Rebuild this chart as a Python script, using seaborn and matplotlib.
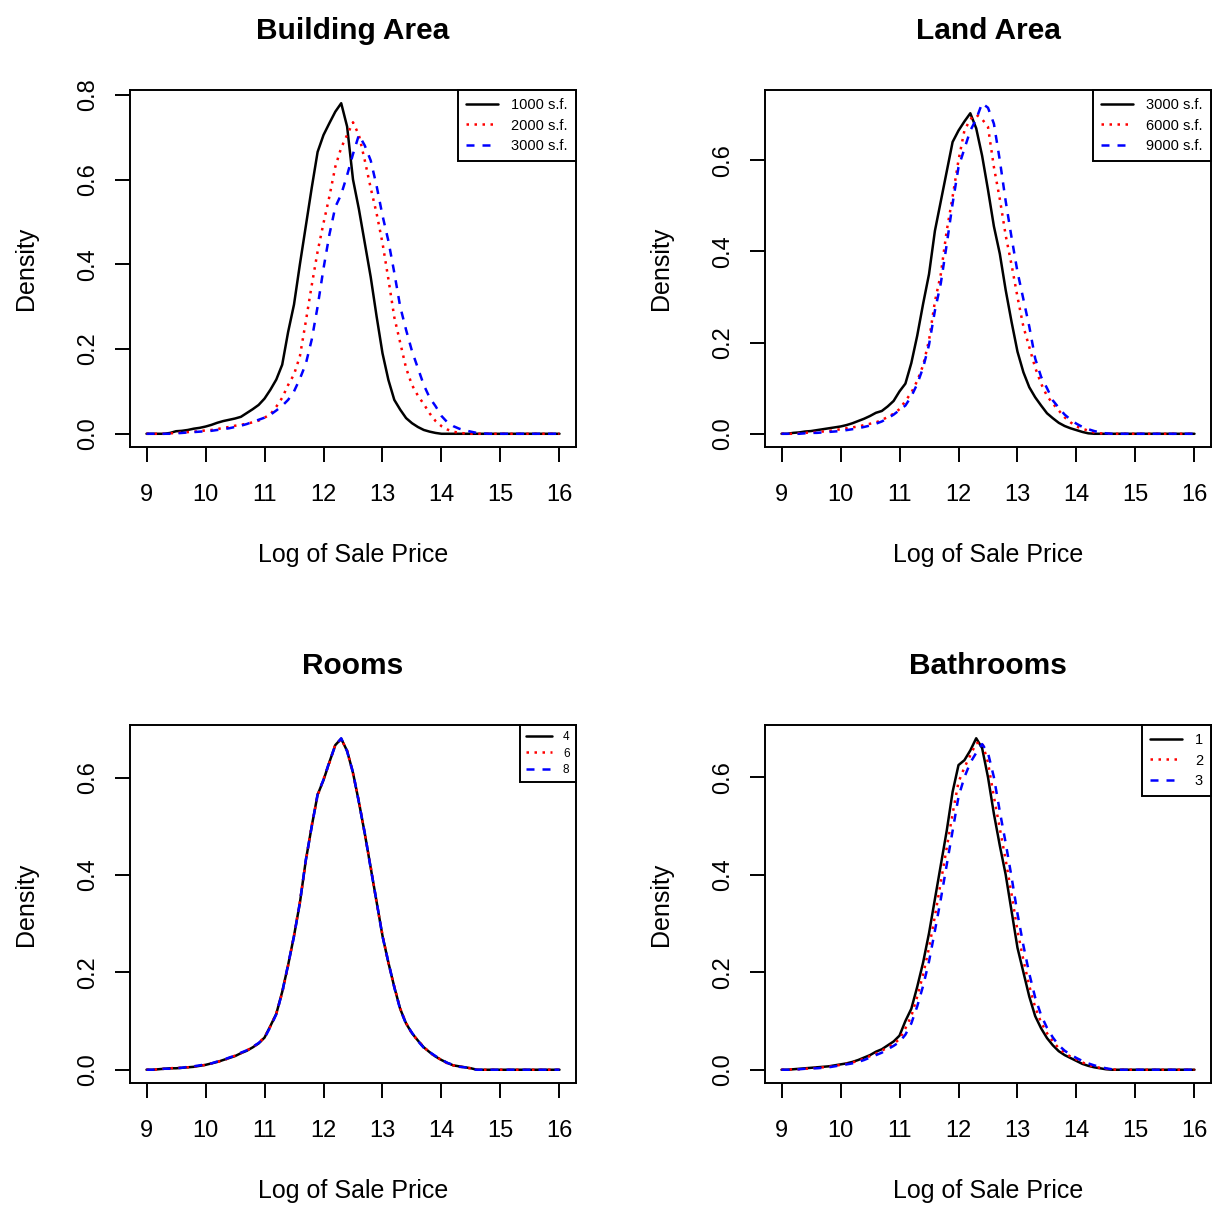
import numpy as np
import pandas as pd
import matplotlib
matplotlib.use("Agg")
import matplotlib.pyplot as plt
from matplotlib.lines import Line2D
from matplotlib.ticker import MultipleLocator, FormatStrFormatter
import seaborn as sns

# Grid of log sale prices on which the densities are tabulated (9.0 .. 16.0)
log_price = np.round(np.arange(9.0, 16.0001, 0.1), 1)

# Estimated densities, tabulated from 9.0 to 14.9 in steps of 0.1 (zero beyond)
bld_1000 = [0, 0, 0, 0, 0.002, 0.006, 0.007, 0.009, 0.012, 0.014,
            0.017, 0.021, 0.026, 0.030, 0.033, 0.036, 0.040, 0.049, 0.058, 0.068,
            0.083, 0.104, 0.128, 0.163, 0.240, 0.305, 0.400, 0.490, 0.580, 0.665,
            0.705, 0.733, 0.760, 0.780, 0.725, 0.600, 0.530, 0.450, 0.370, 0.277,
            0.190, 0.127, 0.080, 0.057, 0.037, 0.025, 0.016, 0.009, 0.005, 0.002,
            0, 0, 0, 0, 0, 0, 0, 0, 0, 0]
bld_2000 = [0, 0, 0, 0, 0.001, 0.002, 0.003, 0.004, 0.005, 0.006,
            0.008, 0.009, 0.011, 0.014, 0.016, 0.019, 0.021, 0.024, 0.027, 0.031,
            0.038, 0.046, 0.064, 0.085, 0.115, 0.140, 0.183, 0.265, 0.350, 0.430,
            0.497, 0.560, 0.630, 0.675, 0.705, 0.735, 0.705, 0.645, 0.580, 0.520,
            0.450, 0.365, 0.275, 0.215, 0.155, 0.115, 0.090, 0.070, 0.048, 0.030,
            0.018, 0.010, 0.005, 0.002, 0.001, 0, 0, 0, 0, 0]
bld_3000 = [0, 0, 0, 0, 0, 0.001, 0.002, 0.003, 0.004, 0.005,
            0.006, 0.007, 0.009, 0.011, 0.013, 0.016, 0.019, 0.023, 0.028, 0.033,
            0.038, 0.045, 0.055, 0.066, 0.080, 0.100, 0.130, 0.165, 0.222, 0.300,
            0.390, 0.470, 0.535, 0.565, 0.610, 0.660, 0.705, 0.680, 0.645, 0.585,
            0.515, 0.455, 0.380, 0.300, 0.245, 0.195, 0.155, 0.115, 0.085, 0.065,
            0.042, 0.027, 0.018, 0.012, 0.008, 0.005, 0.002, 0.001, 0, 0]

land_3000 = [0, 0, 0.002, 0.003, 0.005, 0.006, 0.008, 0.010, 0.012, 0.014,
             0.016, 0.019, 0.023, 0.028, 0.033, 0.039, 0.046, 0.050, 0.060, 0.072,
             0.093, 0.110, 0.155, 0.215, 0.285, 0.350, 0.445, 0.510, 0.575, 0.640,
             0.665, 0.685, 0.703, 0.670, 0.610, 0.535, 0.455, 0.395, 0.315, 0.245,
             0.180, 0.135, 0.102, 0.080, 0.062, 0.045, 0.034, 0.024, 0.017, 0.012,
             0.008, 0.004, 0.001, 0, 0, 0, 0, 0, 0, 0]
land_6000 = [0, 0, 0, 0.001, 0.002, 0.003, 0.004, 0.005, 0.006, 0.008,
             0.010, 0.012, 0.014, 0.016, 0.019, 0.022, 0.025, 0.030, 0.037, 0.044,
             0.054, 0.072, 0.090, 0.116, 0.150, 0.205, 0.290, 0.350, 0.445, 0.520,
             0.600, 0.665, 0.690, 0.700, 0.690, 0.673, 0.585, 0.515, 0.435, 0.370,
             0.300, 0.235, 0.190, 0.145, 0.110, 0.083, 0.066, 0.051, 0.036, 0.025,
             0.016, 0.011, 0.007, 0.003, 0.001, 0, 0, 0, 0, 0]
land_9000 = [0, 0, 0, 0, 0.001, 0.002, 0.002, 0.003, 0.004, 0.005,
             0.006, 0.008, 0.010, 0.012, 0.015, 0.018, 0.022, 0.027, 0.034, 0.042,
             0.052, 0.062, 0.082, 0.109, 0.145, 0.195, 0.270, 0.330, 0.415, 0.505,
             0.585, 0.625, 0.665, 0.690, 0.725, 0.715, 0.680, 0.600, 0.510, 0.430,
             0.355, 0.295, 0.235, 0.165, 0.125, 0.100, 0.073, 0.057, 0.042, 0.031,
             0.022, 0.015, 0.010, 0.006, 0.003, 0.001, 0, 0, 0, 0]

rooms_4 = [0, 0, 0.001, 0.002, 0.003, 0.003, 0.004, 0.005, 0.006, 0.008,
           0.010, 0.013, 0.016, 0.020, 0.024, 0.028, 0.034, 0.039, 0.046, 0.054,
           0.066, 0.090, 0.115, 0.160, 0.215, 0.275, 0.343, 0.430, 0.500, 0.565,
           0.595, 0.632, 0.667, 0.680, 0.655, 0.610, 0.550, 0.485, 0.415, 0.345,
           0.275, 0.220, 0.170, 0.125, 0.095, 0.075, 0.060, 0.046, 0.036, 0.027,
           0.020, 0.014, 0.009, 0.007, 0.005, 0.003, 0, 0, 0, 0]
rooms_6 = [0, 0, 0.001, 0.002, 0.003, 0.004, 0.004, 0.005, 0.007, 0.008,
           0.010, 0.013, 0.016, 0.019, 0.024, 0.029, 0.034, 0.040, 0.046, 0.055,
           0.067, 0.089, 0.116, 0.158, 0.214, 0.276, 0.345, 0.428, 0.502, 0.563,
           0.597, 0.630, 0.668, 0.679, 0.656, 0.608, 0.552, 0.484, 0.417, 0.343,
           0.277, 0.219, 0.171, 0.126, 0.096, 0.074, 0.060, 0.047, 0.035, 0.027,
           0.020, 0.013, 0.009, 0.007, 0.004, 0.003, 0, 0, 0, 0]
rooms_8 = [0, 0, 0.001, 0.002, 0.002, 0.003, 0.004, 0.006, 0.007, 0.009,
           0.011, 0.013, 0.017, 0.020, 0.025, 0.029, 0.035, 0.040, 0.047, 0.055,
           0.065, 0.088, 0.114, 0.159, 0.216, 0.274, 0.344, 0.431, 0.499, 0.566,
           0.596, 0.633, 0.666, 0.681, 0.654, 0.611, 0.549, 0.486, 0.414, 0.346,
           0.274, 0.221, 0.169, 0.124, 0.094, 0.076, 0.059, 0.045, 0.036, 0.028,
           0.021, 0.014, 0.010, 0.006, 0.005, 0.002, 0, 0, 0, 0]

bath_1 = [0, 0, 0.001, 0.002, 0.003, 0.004, 0.005, 0.006, 0.007, 0.009,
          0.011, 0.013, 0.016, 0.020, 0.025, 0.030, 0.037, 0.042, 0.050, 0.058,
          0.070, 0.100, 0.125, 0.170, 0.220, 0.280, 0.350, 0.420, 0.490, 0.570,
          0.625, 0.635, 0.655, 0.680, 0.660, 0.600, 0.525, 0.460, 0.400, 0.325,
          0.250, 0.200, 0.150, 0.110, 0.085, 0.065, 0.050, 0.038, 0.030, 0.024,
          0.018, 0.012, 0.008, 0.005, 0.003, 0.001, 0, 0, 0, 0]
bath_2 = [0, 0, 0.001, 0.001, 0.002, 0.003, 0.004, 0.005, 0.006, 0.008,
          0.010, 0.012, 0.015, 0.018, 0.023, 0.028, 0.033, 0.039, 0.046, 0.053,
          0.063, 0.085, 0.110, 0.150, 0.195, 0.250, 0.315, 0.385, 0.455, 0.525,
          0.590, 0.620, 0.645, 0.670, 0.672, 0.630, 0.560, 0.495, 0.430, 0.360,
          0.285, 0.225, 0.172, 0.128, 0.097, 0.075, 0.058, 0.044, 0.034, 0.027,
          0.021, 0.015, 0.010, 0.006, 0.004, 0.002, 0.001, 0, 0, 0]
bath_3 = [0, 0, 0, 0.001, 0.002, 0.003, 0.003, 0.004, 0.005, 0.007,
          0.009, 0.011, 0.013, 0.016, 0.020, 0.025, 0.030, 0.035, 0.042, 0.049,
          0.057, 0.072, 0.095, 0.130, 0.172, 0.222, 0.285, 0.350, 0.420, 0.490,
          0.560, 0.600, 0.630, 0.650, 0.668, 0.650, 0.600, 0.530, 0.465, 0.395,
          0.320, 0.255, 0.197, 0.148, 0.112, 0.086, 0.066, 0.050, 0.039, 0.031,
          0.024, 0.018, 0.013, 0.009, 0.006, 0.003, 0.001, 0, 0, 0]

titles = ["Building Area", "Land Area", "Rooms", "Bathrooms"]
panel_series = [[bld_1000, bld_2000, bld_3000],
                [land_3000, land_6000, land_9000],
                [rooms_4, rooms_6, rooms_8],
                [bath_1, bath_2, bath_3]]
panel_labels = [["1000 s.f.", "2000 s.f.", "3000 s.f."],
                ["3000 s.f.", "6000 s.f.", "9000 s.f."],
                ["4", "6", "8"],
                ["1", "2", "3"]]
x_ticks = [9, 10, 11, 12, 13, 14, 15, 16]

# Line styles: solid black, dotted red, dashed blue
colors = ["black", "red", "blue"]
lw = 1.8
styles = ["-", (0, (1.0, 2.2)), (0, (3.2, 3.2))]

sns.set_theme(style="white")
plt.rcParams["font.family"] = ["Liberation Sans", "DejaVu Sans"]
plt.rcParams["axes.edgecolor"] = "black"
plt.rcParams["text.color"] = "black"
plt.rcParams["axes.labelcolor"] = "black"
plt.rcParams["xtick.color"] = "black"
plt.rcParams["ytick.color"] = "black"

W, H = 1217, 1205
fig = plt.figure(figsize=(W / 100, H / 100), dpi=100)

boxes = [(130, 90, 576, 447), (765, 90, 1211, 447),
         (130, 725, 576, 1083), (765, 725, 1211, 1083)]
legend_fs = [10.5, 10.5, 8.5, 10.5]
legend_sp = [0.45, 0.45, 0.35, 0.45]

for i, (l, t, r, b) in enumerate(boxes):
    ax = fig.add_axes([l / W, 1 - b / H, (r - l) / W, (b - t) / H])
    series = panel_series[i]
    ymax = 0.0
    for vals, c, ls, lab in zip(series, colors, styles, panel_labels[i]):
        y = np.zeros(len(log_price))
        y[:len(vals)] = vals
        ymax = max(ymax, y.max())
        df = pd.DataFrame({"log_price": log_price, "density": y})
        sns.lineplot(data=df, x="log_price", y="density", ax=ax, color=c,
                     linestyle=ls, linewidth=lw, errorbar=None)

    ax.set_xlim(9 - 0.04 * 7, 16 + 0.04 * 7)
    ax.set_ylim(-0.04 * ymax, 1.04 * ymax)
    ax.set_xticks(x_ticks)
    ax.yaxis.set_major_locator(MultipleLocator(0.2))
    ax.yaxis.set_major_formatter(FormatStrFormatter("%.1f"))

    for sp in ax.spines.values():
        sp.set_visible(True)
        sp.set_color("black")
        sp.set_linewidth(1.4)
    ax.tick_params(axis="both", which="major", direction="out", length=10.5,
                   width=1.4, color="black", labelsize=17, labelcolor="black",
                   bottom=True, left=True)
    ax.tick_params(axis="x", pad=16)
    ax.tick_params(axis="y", pad=12, labelrotation=90)
    for lab in ax.get_yticklabels():
        lab.set_va("center")

    ax.set_title(titles[i], fontsize=21.5, fontweight="bold", pad=37)
    ax.set_xlabel("Log of Sale Price", fontsize=18, labelpad=27)
    ax.set_ylabel("Density", fontsize=18, labelpad=28)

    handles = [Line2D([0], [0], color=c, linestyle=ls, linewidth=lw)
               for c, ls in zip(colors, styles)]
    fs = legend_fs[i]
    leg = ax.legend(handles, panel_labels[i], loc="upper right",
                    borderaxespad=0, fontsize=fs, frameon=True, fancybox=False,
                    framealpha=1, edgecolor="black", handlelength=2.2,
                    handletextpad=0.9, labelspacing=legend_sp[i], borderpad=0.55)
    leg.get_frame().set_linewidth(1.4)

fig.savefig("out.png", dpi=100, facecolor="white")
